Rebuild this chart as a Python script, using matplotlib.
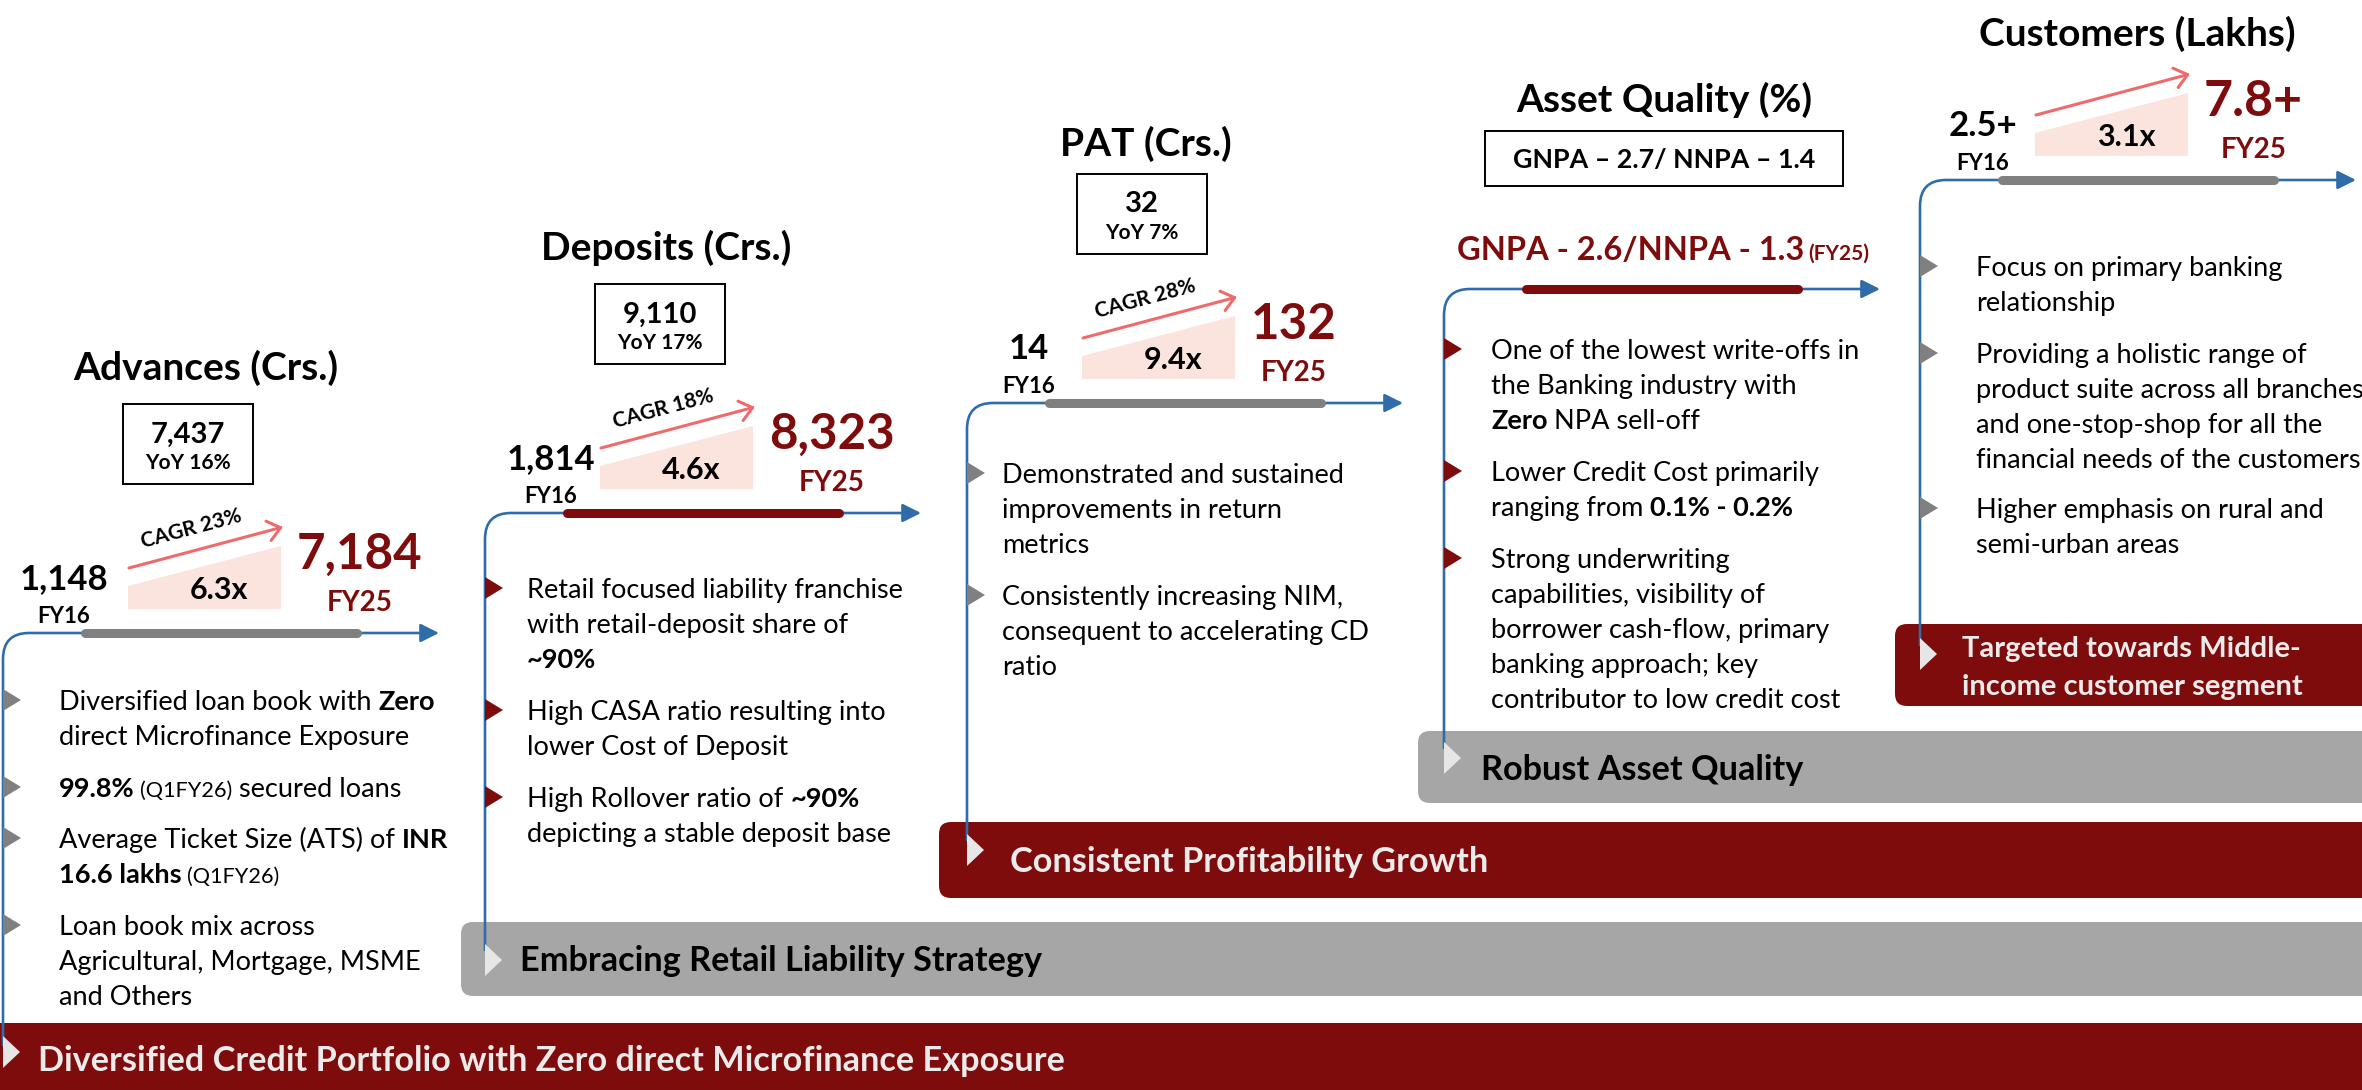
import matplotlib
matplotlib.use("Agg")
import matplotlib.pyplot as plt
from matplotlib.patches import Polygon, FancyBboxPatch, FancyArrowPatch, Rectangle
from matplotlib.path import Path

W, H, DPI = 2362, 1090, 100
plt.rcParams['font.family'] = ['Lato', 'DejaVu Sans']

RED = "#7f0c0c"
GREY_BAND = "#a6a6a6"
GREY_BAR = "#808080"
BLUE = "#2e6daa"
PINK = "#fbe4dd"
ARROW_RED = "#ef6b6b"
LIGHT = "#ebebeb"

# ---------------- data ----------------
titles = ["Advances (Crs.)", "Deposits (Crs.)", "PAT (Crs.)", "Asset Quality (%)", "Customers (Lakhs)"]
fy16 = [1148, 1814, 14, None, 2.5]
fy25 = [7184, 8323, 132, None, 7.8]
plus = [False, False, False, False, True]
multiple = [6.3, 4.6, 9.4, None, 3.1]
cagr = [23, 18, 28, None, None]
latest = [7437, 9110, 32, None, None]
latest_yoy = [16, 17, 7, None, None]
gnpa_latest, nnpa_latest = 2.7, 1.4
gnpa_fy25, nnpa_fy25 = 2.6, 1.3

bullets = [
    [[[("Diversified loan book with ", "r"), ("Zero", "b")], [("direct Microfinance Exposure", "r")]],
     [[("99.8%", "b"), (" (Q1FY26)", "s"), (" secured loans", "r")]],
     [[("Average Ticket Size (ATS) of ", "r"), ("INR", "b")], [("16.6 lakhs", "b"), (" (Q1FY26)", "s")]],
     [[("Loan book mix across", "r")], [("Agricultural, Mortgage, MSME", "r")], [("and Others", "r")]]],
    [[[("Retail focused liability franchise", "r")], [("with retail-deposit share of", "r")], [("~90%", "b")]],
     [[("High CASA ratio resulting into", "r")], [("lower Cost of Deposit", "r")]],
     [[("High Rollover ratio of ", "r"), ("~90%", "b")], [("depicting a stable deposit base", "r")]]],
    [[[("Demonstrated and sustained", "r")], [("improvements in return", "r")], [("metrics", "r")]],
     [[("Consistently increasing NIM,", "r")], [("consequent to accelerating CD", "r")], [("ratio", "r")]]],
    [[[("One of the lowest write-offs in", "r")], [("the Banking industry with", "r")], [("Zero", "b"), (" NPA sell-off", "r")]],
     [[("Lower Credit Cost primarily", "r")], [("ranging from ", "r"), ("0.1% - 0.2%", "b")]],
     [[("Strong underwriting", "r")], [("capabilities, visibility of", "r")], [("borrower cash-flow, primary", "r")],
      [("banking approach; key", "r")], [("contributor to low credit cost", "r")]]],
    [[[("Focus on primary banking", "r")], [("relationship", "r")]],
     [[("Providing a holistic range of", "r")], [("product suite across all branches", "r")],
      [("and one-stop-shop for all the", "r")], [("financial needs of the customers", "r")]],
     [[("Higher emphasis on rural and", "r")], [("semi-urban areas", "r")]]],
]
bands = ["Diversified Credit Portfolio with Zero direct Microfinance Exposure",
         "Embracing Retail Liability Strategy",
         "Consistent Profitability Growth",
         "Robust Asset Quality",
         "Targeted towards Middle-\nincome customer segment"]

# ---------------- layout ----------------
line_x = [3, 485, 967, 1444, 1920]
axis_y = [633, 513, 403, 289, 180]
group_x = [13, 485, 967, 1444, 1920]
fy16_x = [64, 551, 1029, None, 1983]
line_end = [1045, 950, 840, 748, 645]
bar_color = [GREY_BAR, RED, GREY_BAR, RED, GREY_BAR]
tri_color = [GREY_BAR, RED, GREY_BAR, RED, GREY_BAR]
text_x = [59, 527, 1002, 1491, 1976]
bullet_y = [[700, 787, 838, 925], [588, 710, 797], [473, 595], [349, 471, 558], [266, 353, 508]]
title_xy = [(206, 366), (666, 246), (1146, 142), (1664, 98), (2137, 32)]
band_box = [(-30, 1023, 1068), (461, 922, 74), (939, 822, 76), (1418, 731, 72), (1895, 624, 82)]
band_fill = [RED, GREY_BAND, RED, GREY_BAND, RED]
band_tc = [LIGHT, "black", LIGHT, "black", LIGHT]
band_text_xy = [(38, 1059), (520, 959), (1010, 860), (1481, 768), (1962, 666)]
band_tri_y = [1052, 960, 850, 758, 654]
LINE_H = 35
BODY = 19.5

fig = plt.figure(figsize=(W / DPI, H / DPI), dpi=DPI)
ax = fig.add_axes([0, 0, 1, 1])
ax.set_xlim(0, W)
ax.set_ylim(H, 0)
ax.axis("off")
rend = fig.canvas.get_renderer()


def base(yc, size):
    return yc + 0.358 * size * DPI / 72


def width(s, size, weight):
    t = ax.text(0, 0, s, fontsize=size, fontweight=weight)
    w = t.get_window_extent(rend).width
    t.remove()
    return w


def rich(x, yc, parts, size, color="black"):
    y = base(yc, size)
    for s, kind in parts:
        fs = size * 0.8 if kind == "s" else size
        fw = "bold" if kind == "b" else "normal"
        sp = width("a a", fs, fw) - width("aa", fs, fw)
        x += (len(s) - len(s.lstrip(" "))) * sp
        t = ax.text(x, y, s.strip(" "), fontsize=fs, fontweight=fw, color=color, va="baseline", ha="left", zorder=6)
        x += t.get_window_extent(rend).width
        x += (len(s) - len(s.rstrip(" "))) * sp
    return x


def ctext(x, yc, s, size, color="black", weight="bold", ha="center", **kw):
    ax.text(x, base(yc, size), s, fontsize=size, fontweight=weight, color=color,
            ha=ha, va="baseline", zorder=6, **kw)


def tri(x, yc, w, h, color, z=5):
    ax.add_patch(Polygon([(x, yc - h / 2), (x, yc + h / 2), (x + w, yc)], closed=True,
                         fc=color, ec="none", zorder=z))


# bands at the bottom (staircase)
for i, (bx, by, bh) in enumerate(band_box):
    ax.add_patch(FancyBboxPatch((bx, by), W + 60 - bx, bh, boxstyle="round,pad=0,rounding_size=12",
                                fc=band_fill[i], ec="none", zorder=1))
    tx, ty = band_text_xy[i]
    size = 21 if i == 4 else 24.7
    for k, ln in enumerate(bands[i].split("\n")):
        yc = ty + (k - (bands[i].count("\n")) / 2) * 38
        ax.text(tx, base(yc, size), ln, fontsize=size, fontweight="bold", color=band_tc[i],
                va="baseline", ha="left", zorder=6)

for i in range(5):
    lx, ay, gx = line_x[i], axis_y[i], group_x[i]
    r = 26
    tip = lx + 436
    verts = [(lx, line_end[i]), (lx, ay + r), (lx, ay), (lx + r, ay), (tip, ay)]
    codes = [Path.MOVETO, Path.LINETO, Path.CURVE3, Path.CURVE3, Path.LINETO]
    ax.add_patch(FancyArrowPatch(path=Path(verts, codes), arrowstyle="-|>,head_length=0.8,head_width=0.4",
                                 mutation_scale=14, color=BLUE, lw=1.9, zorder=3))
    ax.plot([lx + 82, lx + 354], [ay, ay], lw=6.5, color=bar_color[i], solid_capstyle="round", zorder=4)
    tri(lx, band_tri_y[i], 17, 32, "#e6e6e6")

    # bullets
    for j, b in enumerate(bullets[i]):
        y0 = bullet_y[i][j]
        tri(lx, y0, 18, 22, tri_color[i])
        for k, ln in enumerate(b):
            rich(text_x[i], y0 + k * LINE_H, ln, BODY)

    # title
    ctext(*title_xy[i], titles[i], 28)

    if fy16[i] is None:
        continue
    sfx = "+" if plus[i] else ""
    v16 = f"{fy16[i]:,}{sfx}" if not plus[i] else f"{fy16[i]}{sfx}"
    v25 = f"{fy25[i]:,}{sfx}" if not plus[i] else f"{fy25[i]}{sfx}"
    ctext(fy16_x[i], ay - 56, v16, 25)
    ctext(fy16_x[i], ay - 18, "FY16", 16)
    ax.add_patch(Polygon([(gx + 115, ay - 24), (gx + 115, ay - 47), (gx + 268, ay - 87), (gx + 268, ay - 24)],
                         closed=True, fc=PINK, ec="none", zorder=2))
    ctext(gx + 206, ay - 45, f"{multiple[i]}x", 22)
    ax.add_patch(FancyArrowPatch((gx + 116, ay - 65), (gx + 270, ay - 106),
                                 arrowstyle="->,head_length=0.5,head_width=0.4", mutation_scale=18,
                                 color=ARROW_RED, lw=2.2, shrinkA=0, shrinkB=0, zorder=3))
    s25 = 36 if plus[i] else 35.5
    ctext(gx + 284, ay - 82, v25, s25, color=RED, ha="left")
    w25 = width(v25, s25, "bold")
    ctext(gx + 284 + w25 / 2, ay - 32, "FY25", 20, color=RED)
    if cagr[i] is not None:
        ax.text(gx + 178, ay - 104, f"CAGR {cagr[i]}%", fontsize=15, fontweight="bold", rotation=15,
                ha="center", va="center", rotation_mode="anchor", zorder=6)
    if latest[i] is not None:
        ax.add_patch(Rectangle((gx + 110, ay - 229), 130, 80, fill=False, ec="black", lw=1.4, zorder=5))
        ctext(gx + 175, ay - 201, f"{latest[i]:,}", 21)
        ctext(gx + 175, ay - 171, f"YoY {latest_yoy[i]}%", 15)

# asset quality headline values
ax.add_patch(Rectangle((1485, 131), 358, 55, fill=False, ec="black", lw=1.4, zorder=5))
ctext(1664, 158, f"GNPA \u2013 {gnpa_latest}/ NNPA \u2013 {nnpa_latest}", 19.3)
rich(1457, 248, [(f"GNPA - {gnpa_fy25}/NNPA - {nnpa_fy25}", "b")], 23.5, color=RED)
ax.text(1808, base(252, 15), "(FY25)", fontsize=15, fontweight="bold", color=RED, va="baseline", zorder=6)

fig.savefig("out.png", dpi=DPI)
